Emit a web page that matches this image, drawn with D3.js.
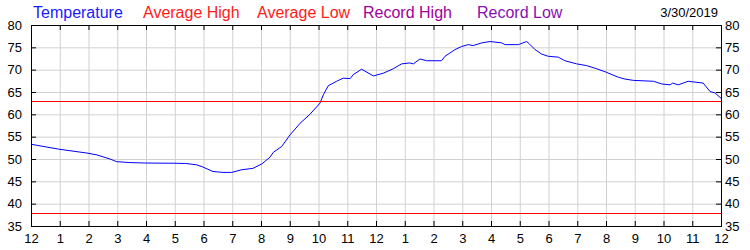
<!DOCTYPE html>
<meta charset="utf-8">
<style>
	body { margin: 0; background: #fff; font-family: "Liberation Sans", Arial, sans-serif; }
	.grid line { stroke: #d0d0d0; }
	.grid path { stroke: none; }
	.axis path { stroke: none; }
	.axis line { stroke: #000; }
	.axis text { fill: #000; font-size: 13px; font-family: "Liberation Sans", Arial, sans-serif; }
</style>
<body>
<svg id="chart" width="750" height="250"></svg>
<script src="https://d3js.org/d3.v7.min.js"></script>
<script>
	// hour of day (0 = midnight) and temperature readings
	var hours = [0, 0.97, 1.98, 2.3, 2.75, 2.98, 3.44, 3.97, 4.97, 5.38, 5.76, 5.98, 6.33, 6.68, 6.98,
		7.33, 7.72, 8.03, 8.31, 8.43, 8.72, 9.01, 9.36, 9.7, 10.05, 10.17, 10.34, 10.63, 10.86, 11.1,
		11.21, 11.5, 11.91, 12.25, 12.6, 12.89, 13.18, 13.3, 13.53, 13.76, 14.28, 14.4, 14.75, 14.98,
		15.21, 15.38, 15.68, 15.97, 16.37, 16.49, 16.95, 17.24, 17.33, 17.53, 17.76, 17.99, 18.34,
		18.57, 18.98, 19.33, 19.68, 20.02, 20.43, 20.66, 20.95, 21.65, 21.94, 22.23, 22.32, 22.51,
		22.86, 23.38, 23.62, 23.79, 24];
	var temps = [53.3, 52.2, 51.3, 50.9, 50.0, 49.4, 49.2, 49.1, 49.05, 49.0, 48.7, 48.2, 47.2, 47.0, 47.0,
		47.6, 47.9, 48.9, 50.4, 51.5, 52.8, 55.4, 58.0, 60.0, 62.5, 64.4, 66.4, 67.4, 68.1, 68.0,
		68.9, 70.1, 68.6, 69.2, 70.2, 71.3, 71.5, 71.3, 72.4, 72.0, 72.0, 73.0, 74.5, 75.2,
		75.6, 75.4, 76.0, 76.3, 76.0, 75.6, 75.6, 76.3, 75.8, 74.5, 73.5, 73.0, 72.8,
		72.0, 71.3, 70.9, 70.2, 69.4, 68.3, 67.9, 67.6, 67.4, 66.8, 66.6, 67.0, 66.6,
		67.4, 67.0, 65.1, 64.8, 63.6];
	var averageHigh = 63;
	var averageLow = 38;
	var hourLabels = ["12","1","2","3","4","5","6","7","8","9","10","11",
		"12","1","2","3","4","5","6","7","8","9","10","11","12"];
	var yTicks = [35, 40, 45, 50, 55, 60, 65, 70, 75, 80];
	var legendNames = ["Temperature", "Average High", "Average Low", "Record High", "Record Low"];
	var legendColors = ["#1a1aff", "#ff1a1a", "#ff1a1a", "#a0009a", "#8a10b0"];
	var legendX = [33, 143, 257, 363, 477];
	var dateLabel = "3/30/2019";

	var svg = d3.select("#chart"),
	margin = {top: 25, right: 29, bottom: 24, left: 31},
	width = +svg.attr("width"),
	height = +svg.attr("height");

	var x = d3.scaleLinear()
	.domain([0, 24])
	.range([margin.left, width - margin.right]);
	var y = d3.scaleLinear()
	.domain([35, 80])
	.range([height - margin.bottom, margin.top]);

	var data = hours.map(function(h, i) { return {h: h, t: temps[i]}; });

	// grid
	svg.append("g")
	.attr("class", "grid")
	.attr("transform", "translate(0," + y(35) + ")")
	.call(d3.axisBottom(x).tickValues(d3.range(1, 24)).tickSize(-(y(35) - y(80))).tickFormat(""));
	svg.append("g")
	.attr("class", "grid")
	.attr("transform", "translate(" + x(0) + ",0)")
	.call(d3.axisLeft(y).tickValues(yTicks.slice(1, -1)).tickSize(-(x(24) - x(0))).tickFormat(""));

	var line = d3.line()
	.x(function(d) { return x(d.h); })
	.y(function(d) { return y(d.t); });

	svg.append("path")
	.datum(data)
	.attr("d", line)
	.attr("fill", "none")
	.attr("stroke", "#0000ff")
	.attr("stroke-width", 1);

	// average high / low lines
	svg.selectAll(".avg")
	.data([averageHigh, averageLow])
	.enter().append("line")
	.attr("class", "avg")
	.attr("x1", x(0)).attr("x2", x(24))
	.attr("y1", function(d) { return Math.round(y(d)) + 0.5; })
	.attr("y2", function(d) { return Math.round(y(d)) + 0.5; })
	.attr("stroke", "#ff0000")
	.attr("shape-rendering", "crispEdges");

	// axes with inward ticks
	svg.append("g")
	.attr("class", "axis")
	.attr("transform", "translate(0," + y(35) + ")")
	.call(d3.axisBottom(x).tickValues(d3.range(0, 25)).tickSize(-5).tickPadding(8)
		.tickFormat(function(d, i) { return hourLabels[i]; }));
	svg.append("g")
	.attr("class", "axis")
	.attr("transform", "translate(0," + y(80) + ")")
	.call(d3.axisTop(x).tickValues(d3.range(0, 25)).tickSize(-5).tickFormat(""));
	svg.append("g")
	.attr("class", "axis")
	.attr("transform", "translate(" + x(0) + ",0)")
	.call(d3.axisLeft(y).tickValues(yTicks).tickSize(-5).tickPadding(9));
	svg.append("g")
	.attr("class", "axis")
	.attr("transform", "translate(" + x(24) + ",0)")
	.call(d3.axisRight(y).tickValues(yTicks).tickSize(-5).tickPadding(4));

	svg.append("rect")
	.attr("x", x(0) + 0.5).attr("y", y(80) + 0.5)
	.attr("width", x(24) - x(0)).attr("height", y(35) - y(80))
	.attr("fill", "none")
	.attr("stroke", "#000");

	// legend
	svg.selectAll(".legend")
	.data(legendNames)
	.enter().append("text")
	.attr("class", "legend")
	.attr("x", function(d, i) { return legendX[i]; })
	.attr("y", 18)
	.attr("font-size", "16px")
	.attr("fill", function(d, i) { return legendColors[i]; })
	.text(function(d) { return d; });

	svg.append("text")
	.attr("x", 718)
	.attr("y", 17)
	.attr("text-anchor", "end")
	.attr("font-size", "13px")
	.attr("fill", "#000")
	.text(dateLabel);
</script>
</body>
